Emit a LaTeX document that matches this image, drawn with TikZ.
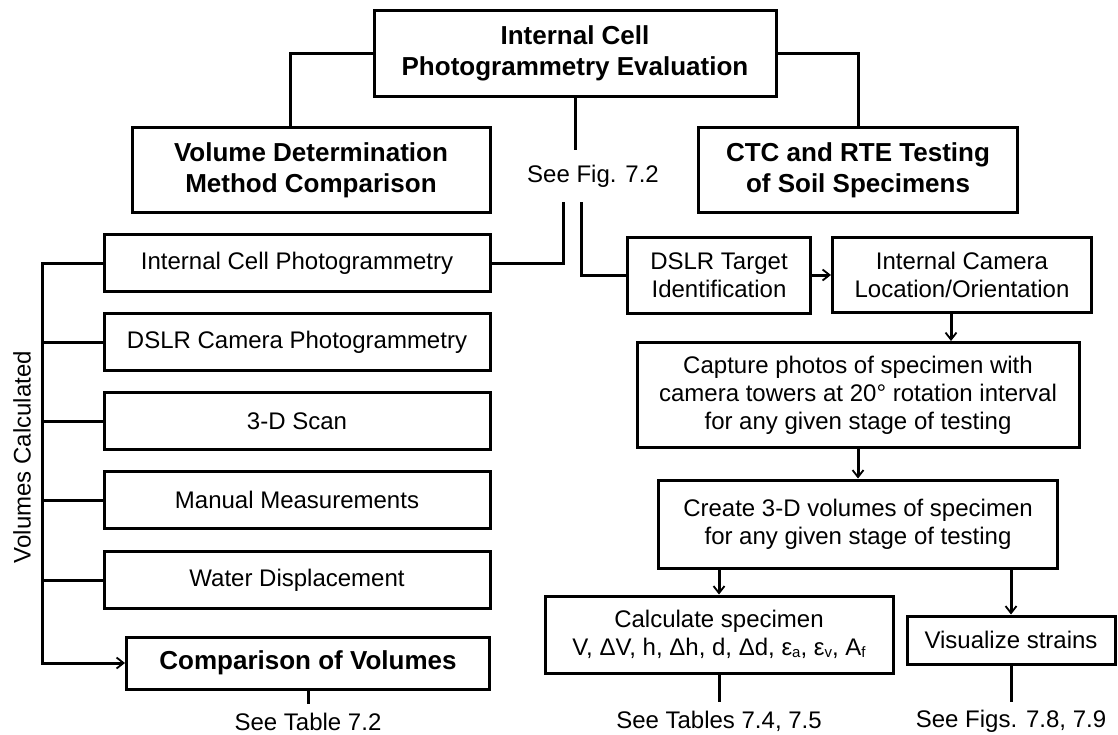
\documentclass[tikz,border=0pt]{standalone}
\usepackage{fontspec}
\setmainfont{Liberation Sans}
\usepackage{tikz}
\usetikzlibrary{arrows.meta,calc}
\newcommand\lowsub[1]{\raisebox{-2pt}{\fontsize{15}{15}\selectfont #1}}

\begin{document}
\begin{tikzpicture}[x=1pt,y=-1pt,font=\fontsize{24}{28}\selectfont,
plain/.style={rectangle,draw,line width=3pt,align=center,inner sep=0pt},
bold/.style={plain,font=\fontsize{26}{31}\selectfont\bfseries},
blank/.style={align=center,inner sep=0pt},
line/.style={line width=3pt},
edge/.style={line width=3pt,-{Straight Barb[length=7pt,width=11pt,line width=1.8pt]}}]
\useasboundingbox (0,0) rectangle (1118,734);

\node(top)[bold,minimum width=402pt,minimum height=86pt] at (575,53) {Internal Cell\\Photogrammetry Evaluation};
\node(vol)[bold,minimum width=358pt,minimum height=85pt] at (311,170) {Volume Determination\\Method Comparison};
\node(ctc)[bold,minimum width=319pt,minimum height=85pt] at (858,170) {CTC and RTE Testing\\of Soil Specimens};
\node(seefig)[blank,minimum height=52pt] at (593,176) {See Fig. 7.2};

\node(icp)[plain,minimum width=386pt,minimum height=57pt] at (297,263) {Internal Cell Photogrammetry};
\node(dslrcam)[plain,minimum width=386pt,minimum height=57pt] at (297,342) {DSLR Camera Photogrammetry};
\node(scan)[plain,minimum width=386pt,minimum height=57pt] at (297,421) {3-D Scan};
\node(manual)[plain,minimum width=386pt,minimum height=57pt] at (297,500) {Manual Measurements};
\node(water)[plain,minimum width=386pt,minimum height=57pt] at (297,580) {Water Displacement};
\node(comp)[bold,minimum width=363pt,minimum height=52pt] at (308,663) {Comparison of Volumes};
\node(voltxt)[blank,rotate=90] at (22,457) {Volumes Calculated};
\coordinate(rail) at (42,0);
\node(tab72)[blank,minimum height=36pt] at (308,722) {See Table 7.2};

\node(dslrt)[plain,minimum width=183pt,minimum height=76pt] at (719,275) {DSLR Target\\Identification};
\node(intcam)[plain,minimum width=259pt,minimum height=75pt] at (962,275) {Internal Camera\\Location/Orientation};
\node(capture)[plain,minimum width=442pt,minimum height=105pt] at (858,395) {Capture photos of specimen with\\camera towers at 20° rotation interval\\for any given stage of testing};
\node(create)[plain,minimum width=399pt,minimum height=88pt] at (858,524) {Create 3-D volumes of specimen\\for any given stage of testing};
\node(calc)[plain,minimum width=348pt,minimum height=77pt] at (719,634.5) {Calculate specimen\\V, ΔV, h, Δh, d, Δd, ε\lowsub{a}, ε\lowsub{v}, A\lowsub{f}};
\node(vis)[plain,minimum width=208pt,minimum height=48pt] at (1011,640) {Visualize strains};
\node(tab74)[blank,minimum height=38pt] at (719,721) {See Tables 7.4, 7.5};
\node(fig78)[blank,minimum height=38pt] at (1011,721) {See Figs. 7.8, 7.9};

\draw [line] (top.west) -| ([xshift=-21pt]vol.north);
\draw [line] (top.east) -| (ctc.north);
\draw [line] (top.south) -- (top.south |- seefig.north);
\draw [line] ([xshift=-30pt]seefig.south) |- (icp.east);
\draw [line] ([xshift=-12pt]seefig.south) |- (dslrt.west);

\foreach \b in {dslrcam,scan,manual,water}
  \draw [line] (\b.west) -- (\b.west -| rail);
\draw [edge] (icp.west) -| (comp.west -| rail) -- (comp.west);
\draw [line] (comp.south) -- (tab72.north);

\draw [edge] (dslrt) to (intcam);
\draw [edge] ([xshift=-11pt]intcam.south) -- ([xshift=-11pt]intcam.south |- capture.north);
\draw [edge] (capture) to (create);
\draw [edge] (create.south -| calc.north) -- (calc.north);
\draw [edge] (create.south -| vis.north) -- (vis.north);
\draw [line] (calc.south) -- (tab74.north);
\draw [line] (vis.south) -- (fig78.north);
\end{tikzpicture}
\end{document}
